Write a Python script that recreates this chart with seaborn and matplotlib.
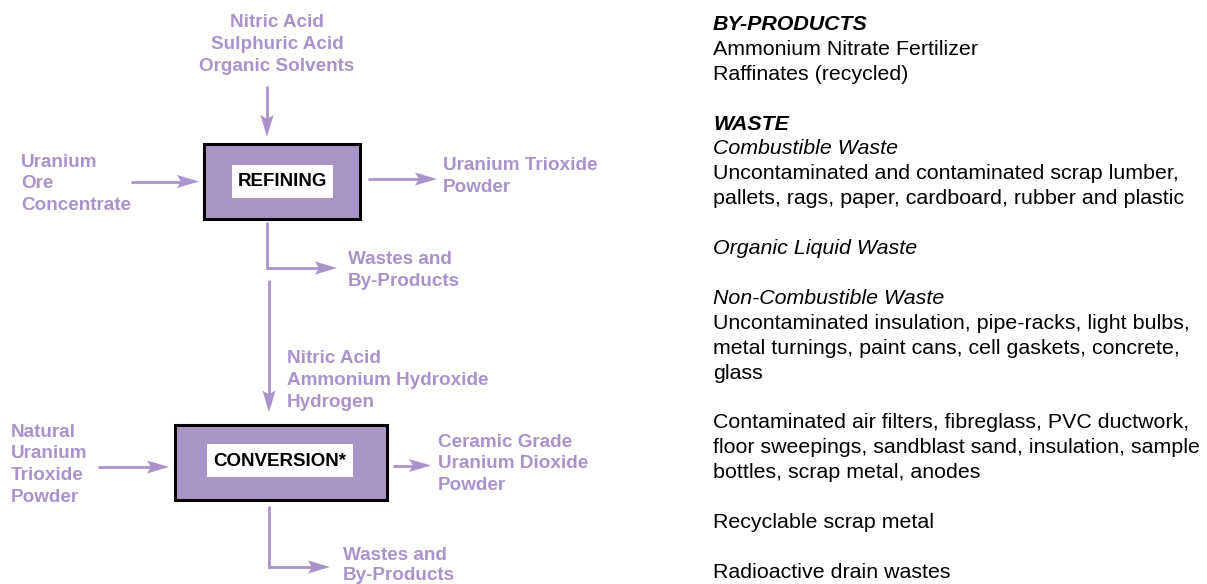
import matplotlib
matplotlib.use("Agg")
import matplotlib.pyplot as plt
from matplotlib.patches import Rectangle, Polygon
import seaborn as sns

# data: labels of the flow chart
stages = ["REFINING", "CONVERSION*"]
refining_inputs = ["Nitric Acid", "Sulphuric Acid", "Organic Solvents"]
refining_feed = ["Uranium", "Ore", "Concentrate"]
refining_product = ["Uranium Trioxide", "Powder"]
conversion_inputs = ["Nitric Acid", "Ammonium Hydroxide", "Hydrogen"]
conversion_feed = ["Natural", "Uranium", "Trioxide", "Powder"]
conversion_product = ["Ceramic Grade", "Uranium Dioxide", "Powder"]
waste_label = ["Wastes and", "By-Products"]

byproducts = ["Ammonium Nitrate Fertilizer", "Raffinates (recycled)"]
waste_groups = [
    ("Combustible Waste", ["Uncontaminated and contaminated scrap lumber,",
                           "pallets, rags, paper, cardboard, rubber and plastic"]),
    ("Organic Liquid Waste", []),
    ("Non-Combustible Waste", ["Uncontaminated insulation, pipe-racks, light bulbs,",
                               "metal turnings, paint cans, cell gaskets, concrete,",
                               "glass"]),
    (None, ["Contaminated air filters, fibreglass, PVC ductwork,",
            "floor sweepings, sandblast sand, insulation, sample",
            "bottles, scrap metal, anodes"]),
    (None, ["Recyclable scrap metal"]),
    (None, ["Radioactive drain wastes"]),
]

sns.set_theme(style="white")
plt.rcParams['font.family'] = ['Liberation Sans', 'DejaVu Sans']

PURPLE = '#a993ca'
FILL = '#a895c5'

fig = plt.figure(figsize=(12.07, 5.84), dpi=100)
ax = fig.add_axes([0, 0, 1, 1])
ax.set_xlim(0, 1207)
ax.set_ylim(584, 0)
ax.axis('off')


def label(lines, x, y, ha='left', gap=21.8):
    for i, s in enumerate(lines):
        ax.text(x, y + gap * i, s, ha=ha, va='baseline', fontsize=13.6,
                fontweight='bold', color=PURPLE)


def arrow(x0, y0, x1, y1, head=22, half=6.5, notch=4):
    dx, dy = x1 - x0, y1 - y0
    n = (dx ** 2 + dy ** 2) ** 0.5
    ux, uy = dx / n, dy / n
    px, py = -uy, ux
    bx, by = x1 - ux * head, y1 - uy * head
    ax.plot([x0, bx + ux * notch], [y0, by + uy * notch], color=PURPLE, lw=2,
            solid_capstyle='butt')
    ax.add_patch(Polygon([(x1, y1), (bx + px * half, by + py * half),
                          (bx + ux * notch, by + uy * notch),
                          (bx - px * half, by - py * half)],
                         closed=True, color=PURPLE, lw=0))


def box(x0, y0, x1, y1, ix0, iy0, ix1, iy1, text, tx, ty):
    ax.add_patch(Rectangle((x0, y0), x1 - x0, y1 - y0, facecolor=FILL,
                           edgecolor='black', lw=2.2))
    ax.add_patch(Rectangle((ix0, iy0), ix1 - ix0, iy1 - iy0, facecolor='white',
                           edgecolor='none'))
    ax.text(tx, ty, text, ha='center', va='baseline', fontsize=13.5,
            fontweight='bold', color='black')


# refining stage
box(204, 144, 360, 219, 232, 165, 333, 198, stages[0], 282.5, 186)
label(refining_inputs, 277, 27, ha='center')
arrow(267, 86, 267, 137)
label(refining_feed, 21, 166.7)
arrow(131, 181.5, 199, 181.5)
label(refining_product, 443, 170)
arrow(368, 179, 437, 179)
ax.plot([267, 267], [223, 268], color=PURPLE, lw=2)
arrow(266.3, 268, 337, 268)
label(waste_label, 348, 264)

# conversion stage
arrow(269, 280, 269, 412.5)
label(conversion_inputs, 287, 363.3)
box(175, 425, 387, 500, 207, 444, 353, 477, stages[1], 280, 465.7)
label(conversion_feed, 10.7, 436.7)
arrow(98, 467, 169, 467)
label(conversion_product, 437.7, 446.7)
arrow(393, 465.5, 431, 465.5)
ax.plot([269, 269], [507, 567], color=PURPLE, lw=2)
arrow(268.3, 567, 330, 567)
label(waste_label, 343, 559.5, gap=20.5)

# right hand text block
step = 24.9
row = 0


def line(s, style='normal', weight='normal'):
    ax.text(713, 30 + step * row, s, ha='left', va='baseline', fontsize=15.4,
            fontstyle=style, fontweight=weight, color='black')


line("BY-PRODUCTS", 'italic', 'bold')
for s in byproducts:
    row += 1
    line(s)
row += 2
line("WASTE", 'italic', 'bold')
first = True
for head, items in waste_groups:
    if not first:
        row += 2
    else:
        row += 1
    first = False
    if head:
        line(head, 'italic')
        row += 1
    for j, s in enumerate(items):
        if j:
            row += 1
        line(s)
    if head and not items:
        row -= 1

fig.savefig('out.png', dpi=100)
